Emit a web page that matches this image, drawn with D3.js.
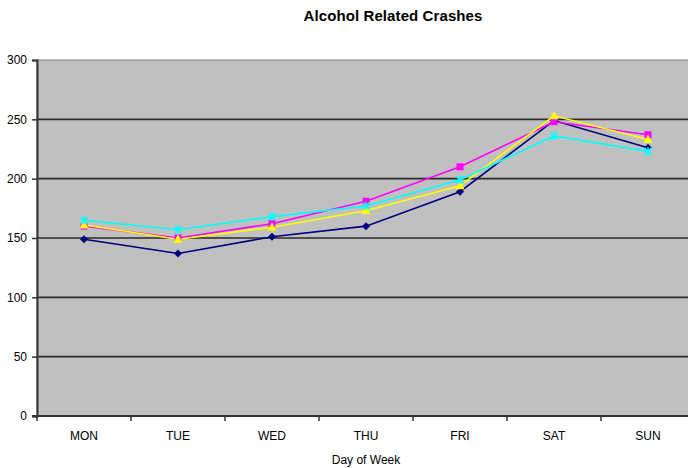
<!DOCTYPE html>
<html>
<head>
<meta charset="utf-8">
<script src="https://cdn.jsdelivr.net/npm/d3@7"></script>
<style>
html,body{margin:0;padding:0;background:#fff;}
svg{display:block;}
text{font-family:"Liberation Sans",Arial,sans-serif;}
</style>
</head>
<body>
<svg id="chart" width="688" height="468"></svg>
<script>
const days = ["MON","TUE","WED","THU","FRI","SAT","SUN"];
const series1 = [149, 137, 151, 160, 189, 249, 226];
const series2 = [160, 150, 162, 181, 210, 248, 237];
const series3 = [161, 149, 159, 173, 194, 253, 233];
const series4 = [165, 157, 168, 177, 199, 236, 223];
const yTicks = [0, 50, 100, 150, 200, 250, 300];
const titleText = "Alcohol Related Crashes";
const xTitle = "Day of Week";

const seriesList = [
  {name:"Series1", values:series1, color:"#000080", marker:"diamond"},
  {name:"Series2", values:series2, color:"#FF00FF", marker:"square"},
  {name:"Series3", values:series3, color:"#FFFF00", marker:"triangle"},
  {name:"Series4", values:series4, color:"#00FFFF", marker:"cross"}
];

const svg = d3.select("#chart");
const pLeft = 37, pRight = 695, pTop = 60, pBottom = 416;

const x = d3.scaleBand().domain(days).range([pLeft, pRight]);
const y = d3.scaleLinear().domain([0, 300]).range([pBottom, pTop]);

// plot area
svg.append("rect").attr("x", pLeft).attr("y", pTop)
  .attr("width", pRight - pLeft).attr("height", pBottom - pTop)
  .attr("fill", "#C0C0C0").attr("stroke", "#808080").attr("stroke-width", 1);

// gridlines
svg.append("g").selectAll("line").data(yTicks.filter(t => t > 0 && t < 300)).join("line")
  .attr("x1", pLeft).attr("x2", pRight)
  .attr("y1", d => y(d)).attr("y2", d => y(d))
  .attr("stroke", "#2a2a2a").attr("stroke-width", 1.6);

// y axis
const yAxis = d3.axisLeft(y).tickValues(yTicks).tickSize(5).tickPadding(5);
const gy = svg.append("g").attr("transform", `translate(${pLeft},0)`).call(yAxis);
gy.select(".domain").attr("stroke", "#333").attr("stroke-width", 2);
gy.selectAll(".tick line").attr("stroke", "#333").attr("stroke-width", 1.5);
gy.selectAll(".tick text").attr("font-size", 12).attr("fill", "#000");

// x axis
svg.append("line").attr("x1", pLeft - 5).attr("x2", pRight)
  .attr("y1", pBottom).attr("y2", pBottom)
  .attr("stroke", "#333").attr("stroke-width", 2);
const edges = days.map(d => x(d));
svg.append("g").selectAll("line").data(edges).join("line")
  .attr("x1", d => d).attr("x2", d => d)
  .attr("y1", pBottom).attr("y2", pBottom + 5)
  .attr("stroke", "#333").attr("stroke-width", 1.5);
svg.append("g").selectAll("text").data(days).join("text")
  .attr("x", d => x(d) + x.bandwidth() / 2).attr("y", 440)
  .attr("text-anchor", "middle").attr("font-size", 12).attr("fill", "#000")
  .text(d => d);

// titles
svg.append("text").attr("x", 393).attr("y", 21).attr("text-anchor", "middle")
  .attr("font-size", 15).attr("font-weight", "bold").attr("letter-spacing", "0.1")
  .text(titleText);
svg.append("text").attr("x", 366).attr("y", 464).attr("text-anchor", "middle")
  .attr("font-size", 12).text(xTitle);

// lines
const line = d3.line().x((d, i) => x(days[i]) + x.bandwidth() / 2).y(d => y(d));
const gLines = svg.append("g");
seriesList.forEach(s => {
  gLines.append("path").datum(s.values)
    .attr("d", line).attr("fill", "none")
    .attr("stroke", s.color).attr("stroke-width", 1.6);
});
seriesList.forEach(s => {
  const g = svg.append("g");
  s.values.forEach((v, i) => {
    const cx = x(days[i]) + x.bandwidth() / 2, cy = y(v);
    if (s.marker === "diamond") {
      g.append("path").attr("d", `M${cx},${cy-4}L${cx+4},${cy}L${cx},${cy+4}L${cx-4},${cy}Z`).attr("fill", s.color);
    } else if (s.marker === "square") {
      g.append("rect").attr("x", cx - 3.5).attr("y", cy - 3.5).attr("width", 7).attr("height", 7).attr("fill", s.color);
    } else if (s.marker === "triangle") {
      g.append("path").attr("d", `M${cx},${cy-5}L${cx+4.5},${cy+3.5}L${cx-4.5},${cy+3.5}Z`).attr("fill", s.color);
    } else {
      g.append("path").attr("d", `M${cx-3.5},${cy-3.5}L${cx+3.5},${cy+3.5}M${cx+3.5},${cy-3.5}L${cx-3.5},${cy+3.5}M${cx},${cy-4}L${cx},${cy+4}`)
        .attr("stroke", s.color).attr("stroke-width", 1.5).attr("fill", "none");
    }
  });
});
</script>
</body>
</html>
